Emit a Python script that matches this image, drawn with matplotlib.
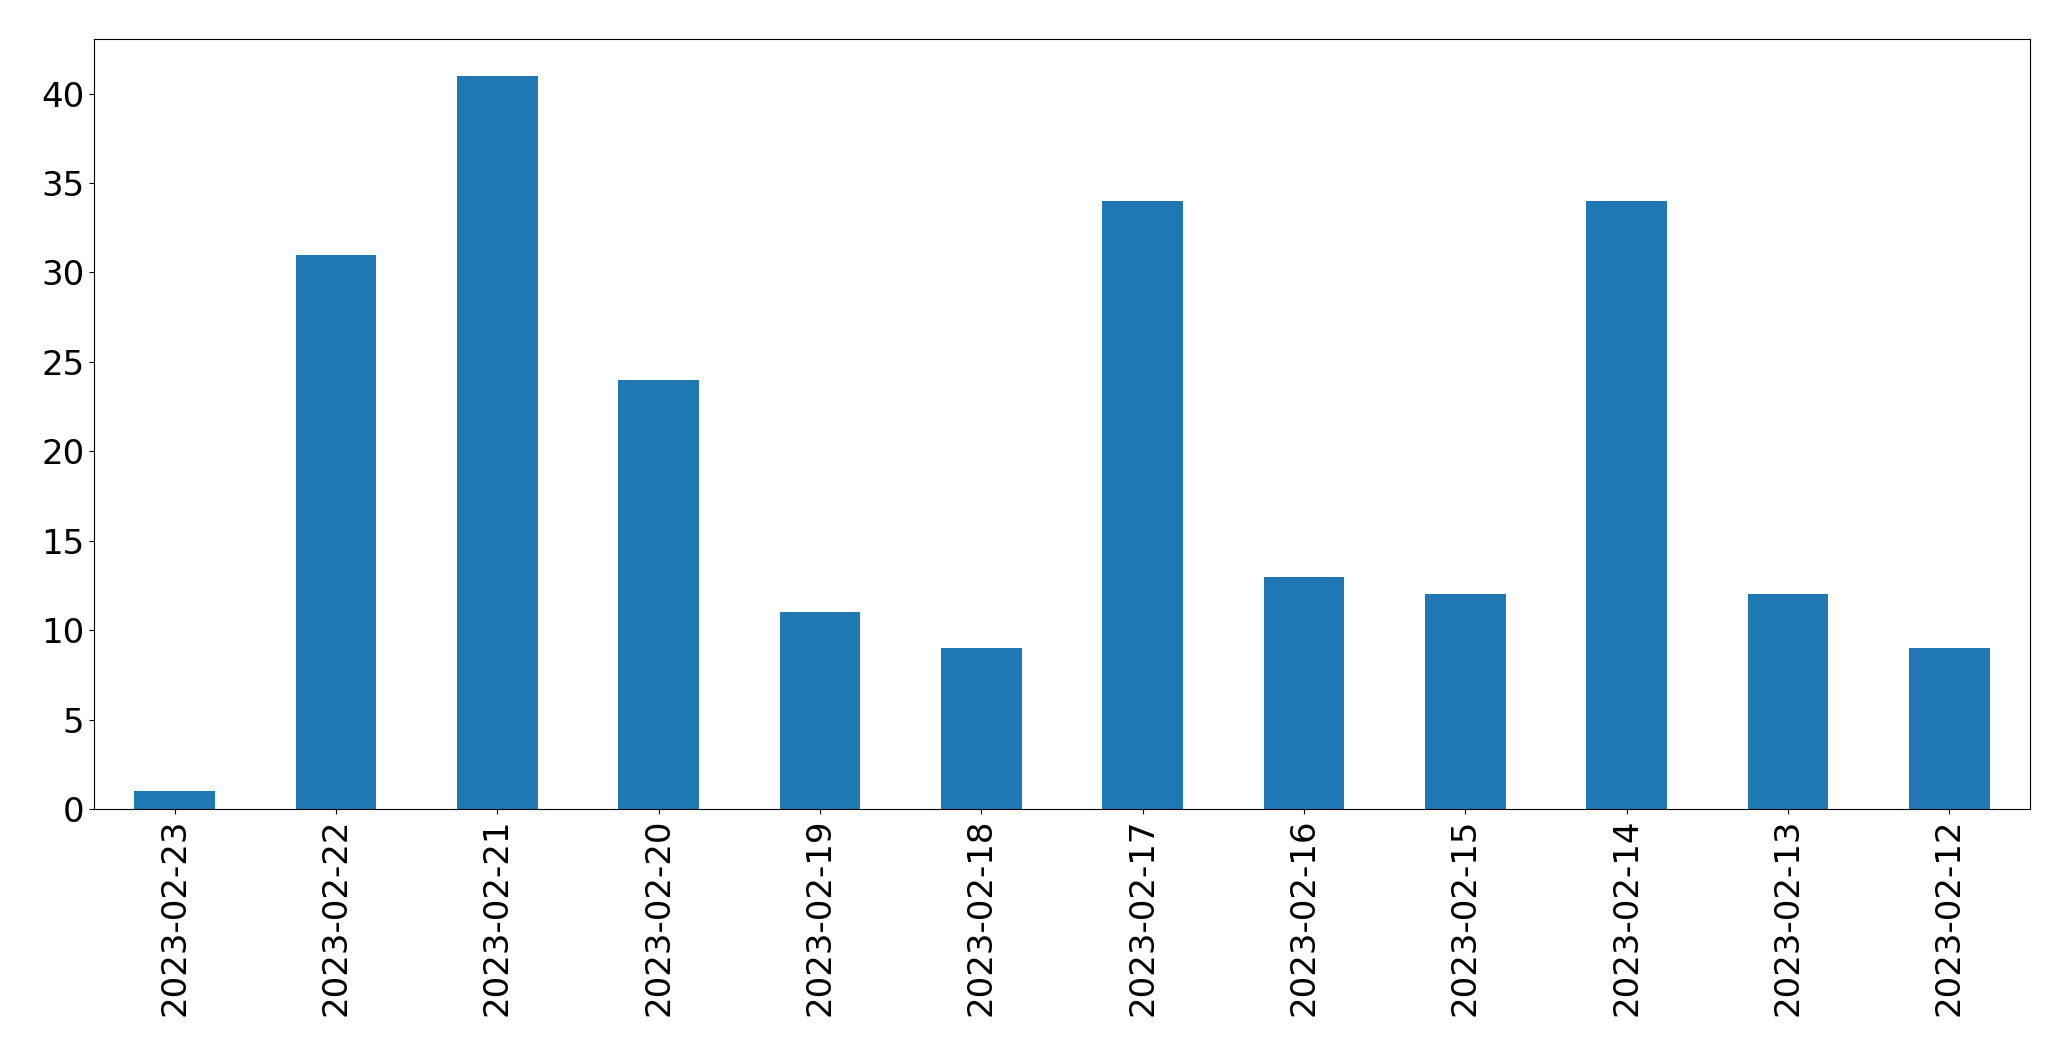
import pandas as pd
import matplotlib
matplotlib.use("Agg")
import matplotlib.pyplot as plt

dates = ['2023-02-23', '2023-02-22', '2023-02-21', '2023-02-20', '2023-02-19', '2023-02-18',
         '2023-02-17', '2023-02-16', '2023-02-15', '2023-02-14', '2023-02-13', '2023-02-12']
counts = [1, 31, 41, 24, 11, 9, 34, 13, 12, 34, 12, 9]

serie = pd.Series(counts, index=dates)

fig = plt.figure(figsize=(20.71, 10.61), dpi=100)
ax = fig.add_axes([0.0454, 0.2375, 0.9348, 0.7257])
serie.plot(kind='bar', ax=ax, color='#1f77b4')
ax.tick_params(axis='both', labelsize=24.5)
plt.savefig('out.png', dpi=100)
